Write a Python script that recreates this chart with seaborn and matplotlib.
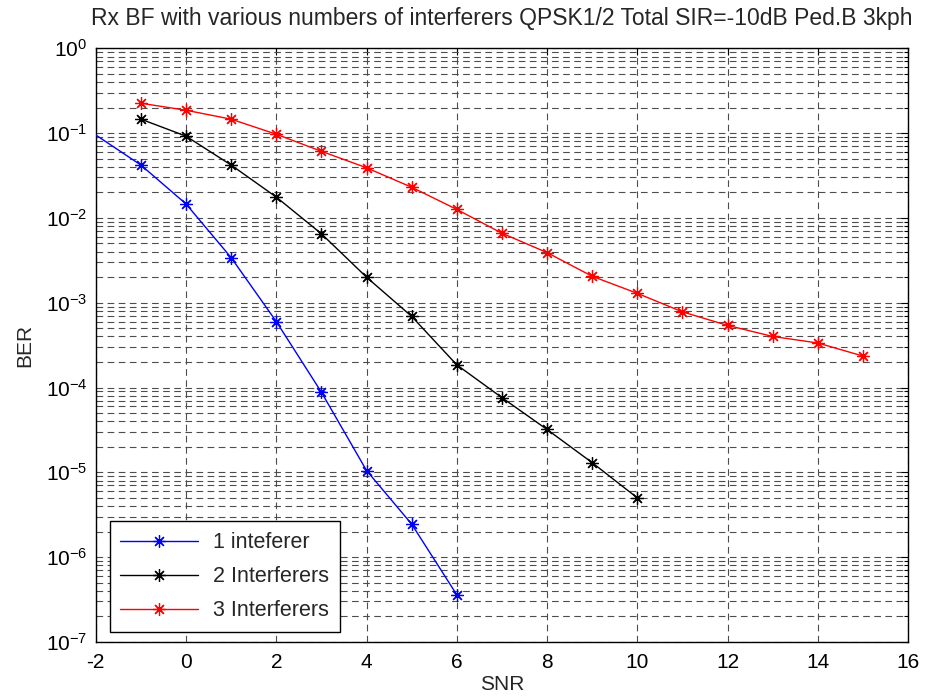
import numpy as np
import pandas as pd
import matplotlib
matplotlib.use("Agg")
import matplotlib.pyplot as plt
import seaborn as sns
from matplotlib.ticker import LogLocator, FixedLocator, NullFormatter

# ---- data ----
snr_1 = [-2, -1, 0, 1, 2, 3, 4, 5, 6]
ber_1 = [0.095, 0.042, 0.0146, 0.0034, 6.0e-4, 8.8e-5, 1.05e-5, 2.45e-6, 3.6e-7]

snr_2 = [-1, 0, 1, 2, 3, 4, 5, 6, 7, 8, 9, 10]
ber_2 = [0.146, 0.092, 0.042, 0.0176, 0.0065, 2.0e-3, 6.9e-4, 1.85e-4, 7.6e-5, 3.2e-5, 1.3e-5, 5.0e-6]

snr_3 = [-1, 0, 1, 2, 3, 4, 5, 6, 7, 8, 9, 10, 11, 12, 13, 14, 15]
ber_3 = [0.225, 0.186, 0.146, 0.097, 0.061, 0.039, 0.023, 0.0126, 6.6e-3, 3.9e-3,
         2.05e-3, 1.29e-3, 7.8e-4, 5.4e-4, 4.0e-4, 3.35e-4, 2.35e-4]

labels = ["1 inteferer", "2 Interferers", "3 Interferers"]
colors = ["#0000ff", "#000000", "#ff0000"]

title = "Rx BF with various numbers of interferers QPSK1/2 Total SIR=-10dB Ped.B 3kph"
xticks = [-2, 0, 2, 4, 6, 8, 10, 12, 14, 16]

sns.set_style("white")
plt.rcParams['font.family'] = ['Liberation Sans', 'DejaVu Sans']
plt.rcParams['mathtext.fontset'] = 'custom'
plt.rcParams['mathtext.rm'] = 'Liberation Sans'
plt.rcParams['mathtext.it'] = 'Liberation Sans:italic'
plt.rcParams['mathtext.bf'] = 'Liberation Sans:bold'
plt.rcParams['axes.unicode_minus'] = False

fig = plt.figure(figsize=(9.39, 7.0), dpi=100)
ax = fig.add_axes([0.102, 0.083, 0.865, 0.848])

asterisk = (8, 2, 0)
series = [(snr_1, ber_1, 1), (snr_2, ber_2, 0), (snr_3, ber_3, 0)]
for (x, y, skip), lab, c in zip(series, labels, colors):
    df = pd.DataFrame({"SNR": x, "BER": y})
    sns.lineplot(data=df, x="SNR", y="BER", ax=ax, color=c, linewidth=1.0,
                 marker=asterisk, markersize=9, markeredgewidth=0.9,
                 markeredgecolor=c, markevery=list(range(skip, len(x))),
                 label=lab, zorder=3)

ax.set_yscale("log")
ax.set_xlim(-2, 16)
ax.set_ylim(1e-7, 1e0)
ax.xaxis.set_major_locator(FixedLocator(xticks))
ax.yaxis.set_major_locator(LogLocator(base=10, numticks=20))
ax.yaxis.set_minor_locator(LogLocator(base=10, subs=np.arange(2, 10), numticks=20))
ax.yaxis.set_minor_formatter(NullFormatter())

grid_kw = dict(color="0.3", linestyle=(0, (6, 4)), linewidth=0.8)
ax.grid(True, which="major", axis="both", **grid_kw)
ax.grid(True, which="minor", axis="y", **grid_kw)
ax.set_axisbelow(True)

ax.tick_params(which="both", direction="in", top=True, right=True,
               labelsize=15, colors="black")
ax.tick_params(which="major", length=5, width=0.8)
ax.tick_params(which="minor", length=3, width=0.8)
ax.tick_params(axis="x", which="major", pad=8)
ax.tick_params(axis="y", which="major", pad=6)
for s in ax.spines.values():
    s.set_visible(True)
    s.set_color("black")
    s.set_linewidth(1.0)

ax.set_xlabel("SNR", fontsize=15, labelpad=2)
ax.set_ylabel("BER", fontsize=15, labelpad=8)
ax.set_title(title, fontsize=16.5, pad=17)

leg = ax.legend(loc="lower left", bbox_to_anchor=(0.017, 0.017), borderaxespad=0,
                fontsize=15.5, frameon=True, fancybox=False, framealpha=1,
                edgecolor="black", handlelength=3.6, borderpad=0.5,
                labelspacing=0.6, handletextpad=0.7)
leg.get_frame().set_linewidth(1.0)

fig.savefig("out.png", dpi=100)
